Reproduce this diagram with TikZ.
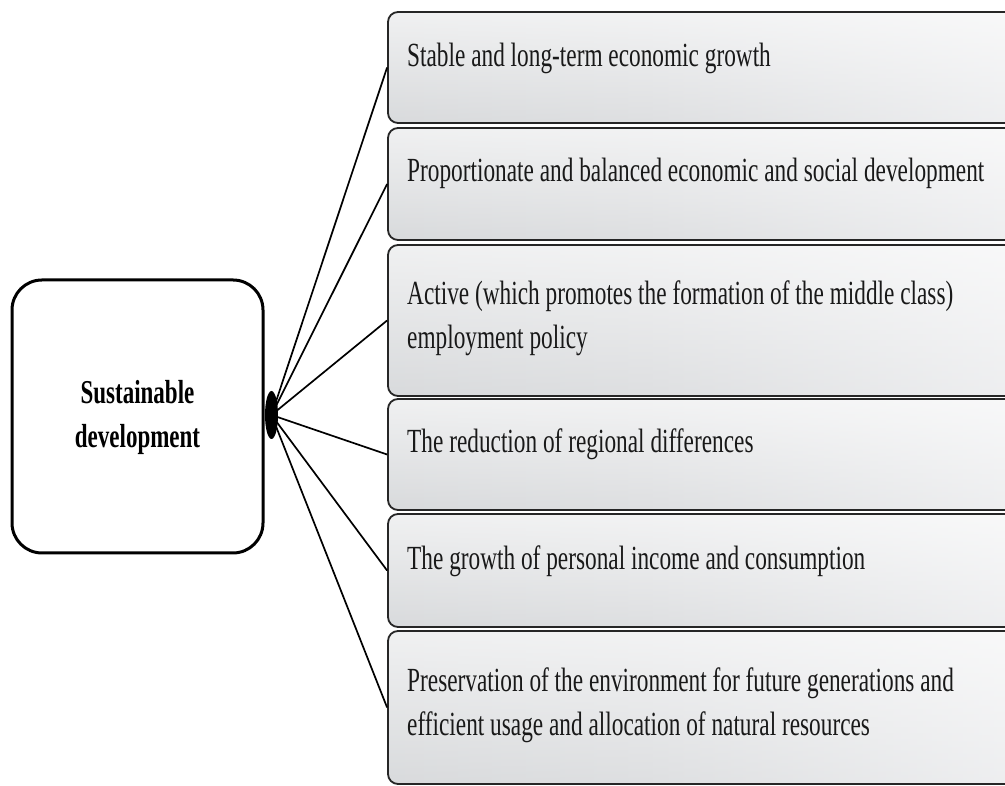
\documentclass[tikz,border=0pt]{standalone}
\usepackage{graphicx}
\usepackage{fontspec}
\setmainfont{Liberation Serif}
\usetikzlibrary{shapes.geometric,fadings}

\definecolor{metalA}{RGB}{186,189,192}
\definecolor{metalB}{RGB}{204,206,209}
\definecolor{metalC}{RGB}{234,235,237}
\definecolor{metalD}{RGB}{218,220,222}
\pgfdeclarehorizontalshading{metal}{100bp}{color(0bp)=(metalA); color(45bp)=(metalB); color(80bp)=(metalC); color(100bp)=(metalD)}
\tikzfading[name=glow, top color=transparent!25, middle color=transparent!100, bottom color=transparent!65]

\newcommand{\tallbox}[2][l]{\scalebox{1}[1.45]{\begin{tabular}{@{}#1@{}}#2\end{tabular}}}

\tikzset{
  goal/.style={draw, line width=3pt, rounded corners=30pt, minimum width=251pt, minimum height=273pt, inner sep=0pt, font=\fontsize{23}{31}\bfseries\selectfont},
  item/.style={draw=black!85, line width=1.8pt, rounded corners=10pt, shading=metal, minimum width=642pt, inner sep=0pt,
    path picture={\fill[white, path fading=glow] (path picture bounding box.south west) rectangle (path picture bounding box.north east);}},
  itemtext/.style={anchor=west, inner sep=0pt, text=black!90},
  hub/.style={ellipse, fill=black, minimum width=13pt, minimum height=48pt, inner sep=0pt},
  spoke/.style={line width=1.7pt}
}

\begin{document}
\begin{tikzpicture}[x=1pt, y=1pt, font=\fontsize{23.3}{31}\selectfont]
        \useasboundingbox (0,0) rectangle (1005,786);

        \node[goal] (goal) at (137.5,369.5) {\tallbox[c]{Sustainable\\development}};
        \node[hub] (hub) at (271.5,371) {};

        \node[item, minimum height=111pt] (b1) at (709,718.5) {};
        \node[item, minimum height=112pt] (b2) at (709,602) {};
        \node[item, minimum height=151pt] (b3) at (709,465.5) {};
        \node[item, minimum height=111pt] (b4) at (709,331.5) {};
        \node[item, minimum height=113pt] (b5) at (709,215.5) {};
        \node[item, minimum height=153pt] (b6) at (709,78.5) {};

        \node[itemtext] (t1) at (407,728.5) {\tallbox{Stable and long-term economic growth}};
        \node[itemtext] (t2) at (407,613) {\tallbox{Proportionate and balanced economic and social development}};
        \node[itemtext] (t3) at (407,468.5) {\tallbox{Active (which promotes the formation of the middle class)\\employment policy}};
        \node[itemtext] (t4) at (407,342.5) {\tallbox{The reduction of regional differences}};
        \node[itemtext] (t5) at (407,225.5) {\tallbox{The growth of personal income and consumption}};
        \node[itemtext] (t6) at (407,81.5) {\tallbox{Preservation of the environment for future generations and\\efficient usage and allocation of natural resources}};

        % spokes from the hub to every box
        \draw[spoke] (hub.center) -- (b1.west);
        \draw[spoke] (hub.center) -- (b2.west);
        \draw[spoke] (hub.center) -- (b3.west);
        \draw[spoke] (hub.center) -- (b4.west);
        \draw[spoke] (hub.center) -- (b5.west);
        \draw[spoke] (hub.center) -- (b6.west);
\end{tikzpicture}
\end{document}
